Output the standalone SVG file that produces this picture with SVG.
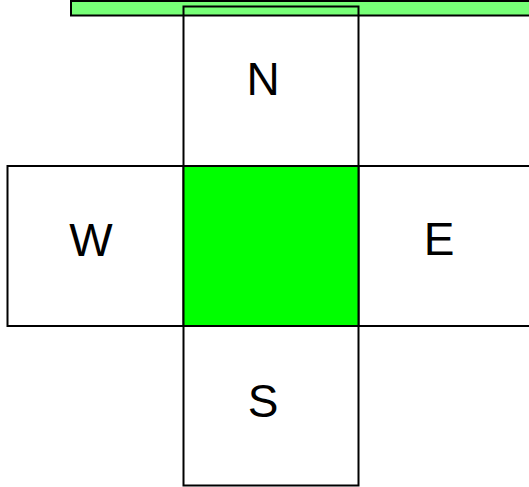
<svg xmlns="http://www.w3.org/2000/svg" width="529" height="487" viewBox="0 0 529 487">
<style>
.box{fill:#fff;stroke:#000;stroke-width:2}
.lbl{font-family:"Liberation Sans",Arial,sans-serif;font-size:46px;text-anchor:middle;fill:#000}
</style>
<rect width="529" height="487" fill="#fff"/>
<g id="bar"><rect x="71" y="1" width="470" height="14.5" fill="#77ff77" stroke="#000" stroke-width="2"/></g>
<g id="north"><rect class="box" x="183.5" y="6.5" width="175" height="160" style="fill:none"/><text class="lbl" x="263" y="95">N</text></g>
<g id="west"><rect class="box" x="7.5" y="166" width="176" height="160"/><text class="lbl" x="91" y="256">W</text></g>
<g id="east"><rect class="box" x="358.5" y="166" width="180" height="160"/><text class="lbl" x="439" y="255">E</text></g>
<g id="south"><rect class="box" x="183.5" y="326" width="175" height="159.5"/><text class="lbl" x="263" y="417">S</text></g>
<g id="center"><rect x="183.5" y="166" width="175" height="160" fill="#00ff00" stroke="#000" stroke-width="2"/></g>
<g id="connectors"></g>
</svg>
